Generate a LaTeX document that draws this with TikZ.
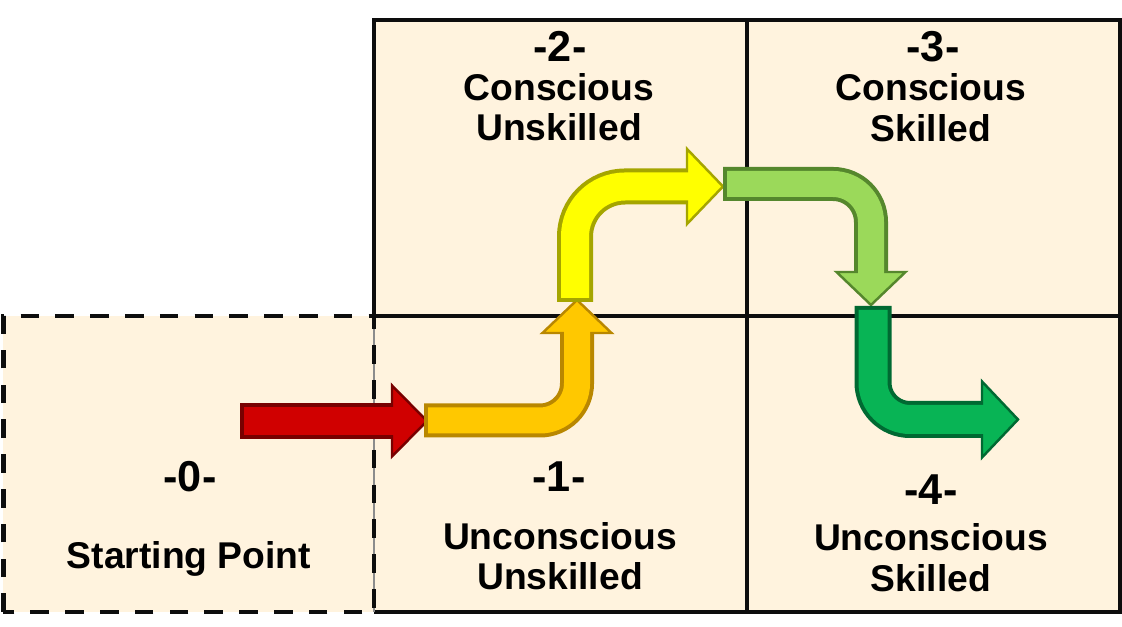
\documentclass[tikz,border=0pt]{standalone}
\usepackage{fontspec}
\setmainfont{Liberation Sans}
\usetikzlibrary{positioning}

\definecolor{cellcream}{RGB}{255,243,222}
\definecolor{redmain}{RGB}{208,0,0}
\definecolor{reddark}{RGB}{120,0,0}
\definecolor{ambermain}{RGB}{255,200,0}
\definecolor{amberdark}{RGB}{185,135,0}
\definecolor{yellowmain}{RGB}{255,255,0}
\definecolor{yellowdark}{RGB}{165,165,0}
\definecolor{limemain}{RGB}{155,217,90}
\definecolor{limedark}{RGB}{85,135,45}
\definecolor{greenmain}{RGB}{8,180,85}
\definecolor{greendark}{RGB}{0,105,50}

\begin{document}
\begin{tikzpicture}[
  cell/.style={fill=cellcream, inner sep=0pt, outer sep=0pt, minimum width=3.73cm, minimum height=2.96cm},
  gridline/.style={line width=1.05pt, black!95},
  dashbox/.style={line width=1.3pt, black!95, dash pattern=on 5.3pt off 4.6pt},
  numtext/.style={font=\fontsize{12.3}{14}\selectfont\bfseries, anchor=base, inner sep=0pt},
  wordtext/.style={font=\fontsize{10.6}{12}\selectfont\bfseries, anchor=base, inner sep=0pt},
  shaft/.style={line cap=butt, line join=miter},
  head/.style={line width=0.7pt, line join=miter},
]

\useasboundingbox[fill=white] (0,0) rectangle (11.22,6.27);

% Cells
\node[cell] (c2) at (5.605,4.59) {};
\node[cell, right=0pt of c2] (c3) {};
\node[cell, below=0pt of c2] (c1) {};
\node[cell, right=0pt of c1] (c4) {};
\node[cell, minimum width=3.705cm, left=0pt of c1] (c0) {};

% Grid lines
\draw[gridline] (c2.south west) |- (c3.north east) |- (c1.south west);
\draw[gridline] (c2.south west) -- (c3.south east);
\draw[gridline] (c2.north east) -- (c4.south west);
\draw[black!45, line width=0.4pt] (c1.north west) -- (c1.south west);
\draw[dashbox] (c0.south west) rectangle (c0.north east);

% Labels
\node[numtext] (n0) at (1.90,1.35) {-0-};
\node[wordtext] (t0) at (1.89,0.58) {Starting Point};

\node[numtext] (n1) at (5.59,1.35) {-1-};
\node[wordtext] (t1a) at (5.60,0.77) {Unconscious};
\node[wordtext] (t1b) at (5.60,0.37) {Unskilled};

\node[numtext] (n2) at (5.60,5.65) {-2-};
\node[wordtext] (t2a) at (5.59,5.26) {Conscious};
\node[wordtext] (t2b) at (5.59,4.86) {Unskilled};

\node[numtext] (n3) at (9.33,5.65) {-3-};
\node[wordtext] (t3a) at (9.31,5.26) {Conscious};
\node[wordtext] (t3b) at (9.31,4.85) {Skilled};

\node[numtext] (n4) at (9.31,1.22) {-4-};
\node[wordtext] (t4a) at (9.31,0.76) {Unconscious};
\node[wordtext] (t4b) at (9.31,0.35) {Skilled};

% Arrow 0 -> 1
\coordinate (r0) at (2.40,2.06);
\coordinate (r1) at (3.94,2.06);
\draw[shaft, draw=reddark, line width=0.36cm] (r0) -- (r1);
\filldraw[head, fill=redmain, draw=reddark] (3.92,2.415) -- (4.27,2.06) -- (3.92,1.705) -- cycle;
\draw[shaft, draw=redmain, line width=0.28cm, shorten <=0.04cm] (r0) -- (r1);

% Arrow 1 -> 2
\coordinate (a0) at (4.24,2.065);
\coordinate (a1) at (5.77,2.065);
\coordinate (a2) at (5.77,2.96);
\draw[shaft, draw=amberdark, line width=0.34cm, rounded corners=0.37cm] (a0) -- (a1) -- (a2);
\filldraw[head, fill=ambermain, draw=amberdark] (5.425,2.94) -- (5.77,3.27) -- (6.115,2.94) -- cycle;
\draw[shaft, draw=ambermain, line width=0.26cm, rounded corners=0.37cm, shorten <=0.04cm] (a0) -- (a1) -- (a2);

% Arrow 2 -> 3
\coordinate (y0) at (5.75,3.25);
\coordinate (y1) at (5.75,4.405);
\coordinate (y2) at (6.90,4.405);
\draw[shaft, draw=yellowdark, line width=0.36cm, rounded corners=0.5cm] (y0) -- (y1) -- (y2);
\filldraw[head, fill=yellowmain, draw=yellowdark] (6.87,4.78) -- (7.23,4.405) -- (6.87,4.03) -- cycle;
\draw[shaft, draw=yellowmain, line width=0.28cm, rounded corners=0.5cm, shorten <=0.04cm] (y0) -- (y1) -- (y2);

% Arrow 3 -> 4
\coordinate (l0) at (7.23,4.43);
\coordinate (l1) at (8.71,4.43);
\coordinate (l2) at (8.71,3.53);
\draw[shaft, draw=limedark, line width=0.34cm, rounded corners=0.38cm] (l0) -- (l1) -- (l2);
\filldraw[head, fill=limemain, draw=limedark] (8.365,3.55) -- (8.71,3.22) -- (9.055,3.55) -- cycle;
\draw[shaft, draw=limemain, line width=0.26cm, rounded corners=0.38cm, shorten <=0.04cm] (l0) -- (l1) -- (l2);

% Arrow 4 out
\coordinate (g0) at (8.73,3.21);
\coordinate (g1) at (8.73,2.075);
\coordinate (g2) at (9.85,2.075);
\draw[shaft, draw=greendark, line width=0.37cm, rounded corners=0.37cm] (g0) -- (g1) -- (g2);
\filldraw[head, fill=greenmain, draw=greendark] (9.82,2.455) -- (10.18,2.075) -- (9.82,1.695) -- cycle;
\draw[shaft, draw=greenmain, line width=0.29cm, rounded corners=0.37cm, shorten <=0.04cm] (g0) -- (g1) -- (g2);

\end{tikzpicture}
\end{document}
